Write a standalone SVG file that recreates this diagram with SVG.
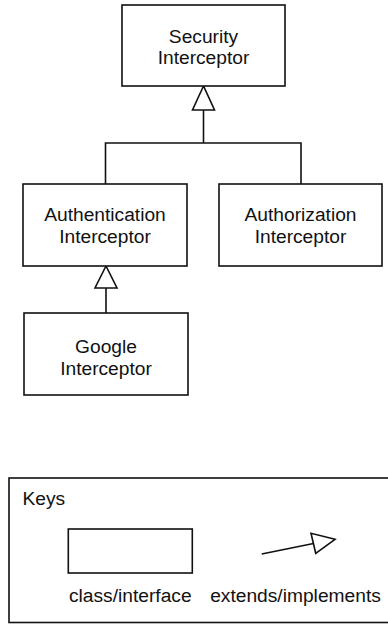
<svg xmlns="http://www.w3.org/2000/svg" width="388" height="624" viewBox="0 0 388 624">
<style>
.box{fill:#fff;stroke:#111;stroke-width:1.6}
.t{font-family:"Liberation Sans",Arial,Helvetica,sans-serif;font-size:19.2px;fill:#111;text-anchor:middle}
.c{fill:none;stroke:#111;stroke-width:1.6}
.h{fill:#fff;stroke:#111;stroke-width:1.6;stroke-linejoin:miter}
</style>
<rect width="388" height="624" fill="#fff"/>
<g id="connectors">
  <polyline class="c" points="203.5,110 203.5,143"/>
  <polyline class="c" points="105.5,184 105.5,143 301,143 301,184"/>
  <polygon class="h" points="203.5,86 192.5,110 214.5,110"/>
  <polyline class="c" points="106,288 106,313"/>
  <polygon class="h" points="106,266 95,288 117,288"/>
</g>
<g id="security">
  <rect class="box" x="122" y="5" width="163" height="81"/>
  <text class="t" x="203.5" y="42.5">Security</text>
  <text class="t" x="203.5" y="64.3">Interceptor</text>
</g>
<g id="authentication">
  <rect class="box" x="23" y="184" width="164" height="82"/>
  <text class="t" x="105" y="221">Authentication</text>
  <text class="t" x="105" y="243.3">Interceptor</text>
</g>
<g id="authorization">
  <rect class="box" x="219" y="184" width="163" height="82"/>
  <text class="t" x="300.5" y="221">Authorization</text>
  <text class="t" x="300.5" y="243.3">Interceptor</text>
</g>
<g id="google">
  <rect class="box" x="24" y="313" width="164" height="82"/>
  <text class="t" x="106" y="352.7">Google</text>
  <text class="t" x="106" y="374.5">Interceptor</text>
</g>
<g id="keys">
  <rect class="box" x="9" y="478" width="385" height="144.5"/>
  <text class="t" x="22.5" y="505" style="text-anchor:start">Keys</text>
  <rect class="box" x="68.3" y="529" width="124" height="44"/>
  <text class="t" x="130.3" y="601.7">class/interface</text>
  <line class="c" x1="261.7" y1="554" x2="313.5" y2="543.5"/>
  <polygon class="h" points="335,539.3 311,533.3 315.7,553.3"/>
  <text class="t" x="295.5" y="601.7">extends/implements</text>
</g>
</svg>
